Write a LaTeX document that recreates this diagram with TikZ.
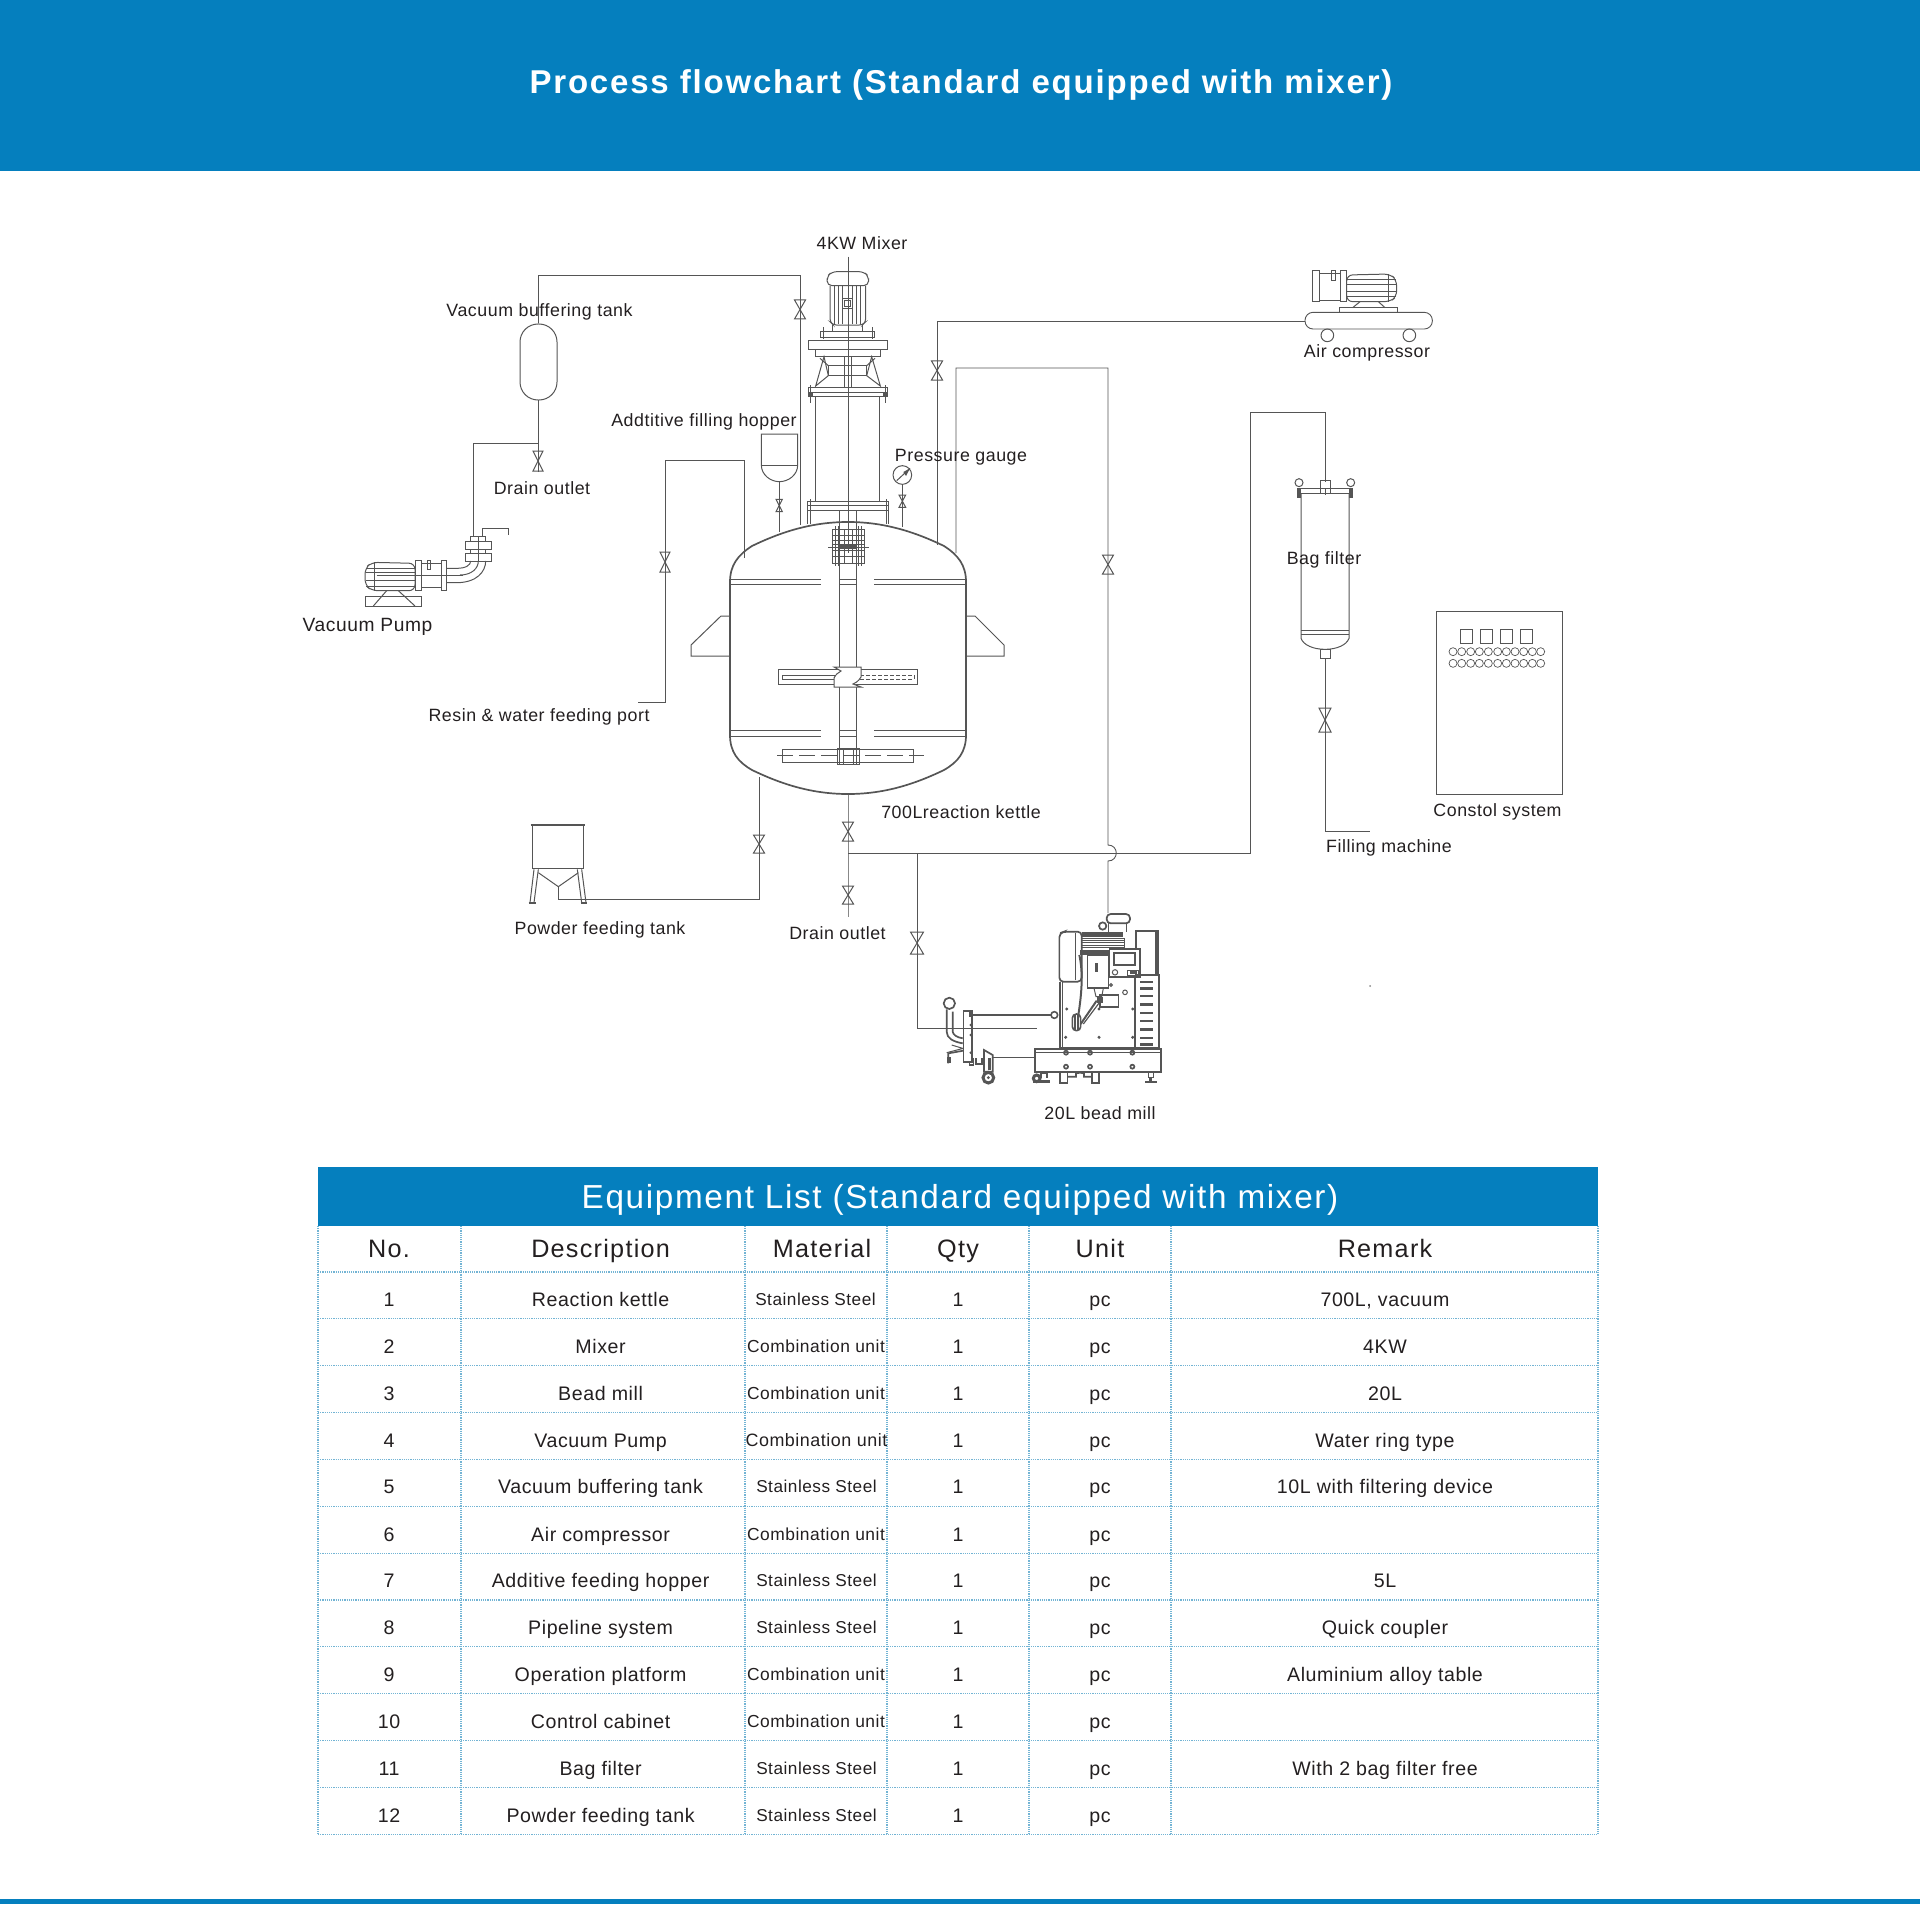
\documentclass[tikz,border=0pt]{standalone}
\usepackage{fontspec}
\setmainfont{Liberation Sans}[LetterSpace=3]
\newfontfamily\titlefont{Liberation Sans}[LetterSpace=5.5,Ligatures=NoCommon]
\newfontfamily\listfont{Liberation Sans}[LetterSpace=5,Ligatures=NoCommon]
\definecolor{hdblue}{RGB}{5,127,190}
\definecolor{ln}{RGB}{85,85,85}
\definecolor{txt}{RGB}{35,31,32}
\definecolor{gridc}{RGB}{115,180,212}
\tikzset{
  pipe/.style={draw=ln,line width=0.45pt},
  thin line/.style={draw=ln,line width=0.5pt},
  vessel/.style={draw=ln,line width=0.85pt},
  gridline/.style={draw=gridc,line width=0.55pt,dash pattern=on 0.6pt off 0.5pt},
  lab/.style={font=\fontsize{8.9}{10}\selectfont,text=txt,inner sep=0pt,anchor=center,text height=6.5pt,text depth=0pt},
  cell/.style={font=\fontsize{9.8}{11}\selectfont,text=txt,inner sep=0pt,anchor=center,text height=7pt,text depth=0pt},
  matcell/.style={text=txt,inner sep=0pt,anchor=center,text height=6.2pt,text depth=0pt},
  headcell/.style={font=\listfont\fontsize{12.6}{14}\selectfont,text=txt,inner sep=0pt,anchor=center,text height=9pt,text depth=0pt},
  zoomat/.style 2 args={shift={(#1,#2)},x=0.16667pt,y=-0.16667pt}
}
\newcommand{\valve}[4]{\draw[thin line] (#1-#4,#2) -- (#1+#4,#2) -- (#1-#4,#3) -- (#1+#4,#3) -- cycle;}
\begin{document}
\begin{tikzpicture}[x=0.5pt,y=-0.5pt]
\path[use as bounding box] (0,0) rectangle (1920,1904);
% banners
\fill[hdblue] (0,0) rectangle (1920,171);
\fill[hdblue] (0,1899) rectangle (1920,1904);
\node[font=\titlefont\bfseries\fontsize{16.5}{18}\selectfont,text=white,inner sep=0pt,text height=12pt,text depth=0pt] (title) at (961,82) {Process flowchart (Standard equipped with mixer)};

% ---------- pipes ----------
\coordinate (tanktop) at (538,323);
\draw[pipe] (tanktop) -- (538,275) -- (800,275) -- (800,525);
\valve{800}{300}{319}{5.5}
\draw[pipe] (937,545) -- (937,321) -- (1305,321);
\valve{937}{361}{380}{5.5}
\draw[pipe] (956,553) -- (956,368) -- (1108,368) -- (1108,845) .. controls (1119,845) and (1119,861) .. (1108,861) -- (1108,913);
\valve{1108}{555}{574}{5.5}
\draw[pipe] (744,558) -- (744,460) -- (665,460) -- (665,702) -- (638,702);
\valve{665}{552}{572}{5}
\draw[pipe] (759,777) -- (759,899) -- (558,899) -- (558,887);
\valve{759}{835}{853}{5.5}
\draw[draw=ln!70,line width=0.5pt] (848,794) -- (848,917);
\valve{848}{822}{841}{5.5}
\valve{848}{886}{904}{5.5}
\draw[pipe] (848,853) -- (1250,853) -- (1250,412) -- (1325,412) -- (1325,482);
\draw[pipe] (917,853) -- (917,1028) -- (1037,1028);
\valve{917}{932}{954}{6.5}
\draw[pipe] (538,400) -- (538,472);
\valve{538}{451}{471}{5}
\draw[pipe] (538,443) -- (473,443) -- (473,536);
\draw[pipe] (1325,658) -- (1325,831) -- (1370,831);
\valve{1325}{708}{732}{6}

% ---------- vacuum buffering tank ----------
\draw[thin line,rounded corners=9pt] (520,324) rectangle (557,400);

% ---------- kettle ----------
\draw[vessel] (730,582) -- (730,735) .. controls (730,752) and (738,762) .. (752,770) .. controls (785,786) and (815,794) .. (848,794) .. controls (881,794) and (911,786) .. (944,770) .. controls (958,762) and (966,752) .. (966,735) -- (966,582) .. controls (966,565) and (958,555) .. (944,546) .. controls (911,530) and (881,522) .. (848,522) .. controls (815,522) and (785,530) .. (752,546) .. controls (738,555) and (730,565) .. (730,582) -- cycle;
\foreach \yy in {579,584,730,736}{
  \draw[thin line] (730,\yy) -- (821,\yy);
  \draw[thin line] (839,\yy) -- (856,\yy);
  \draw[thin line] (874,\yy) -- (966,\yy);
}
% lugs
\draw[thin line] (730,616) -- (721,616) -- (691,645) -- (691,656) -- (730,656);
\draw[thin line] (966,616) -- (975,616) -- (1004,645) -- (1004,656) -- (966,656);
% shaft
\draw[thin line] (839.5,510) -- (839.5,667) (839.5,687) -- (839.5,764) -- (856.5,764) -- (856.5,687) (856.5,667) -- (856.5,510);
\draw[thin line] (844,530) -- (844,563) (852,530) -- (852,563);
% coupling grid
\draw[thin line] (832,529) rectangle (864,563);
\foreach \yy in {535,540,544,550,556}{\draw[thin line] (832,\yy) -- (864,\yy);}
\foreach \xx in {835,838,858,861}{\draw[thin line] (\xx,526) -- (\xx,566);}
\draw[thin line] (828,547) -- (869,547);
\fill[ln] (840,545) rectangle (856,549);
% upper impeller
\draw[thin line] (778,669) rectangle (917,684);
\draw[thin line] (782,675) rectangle (836,679);
\draw[thin line,dash pattern=on 2pt off 1pt] (860,675) -- (914,675) -- (914,679) -- (860,679);
\draw[thin line,fill=white] (834,667) -- (861,667) -- (861,677) .. controls (858,682) and (855,683) .. (853,684) -- (861,687) -- (834,687) -- (834,678) .. controls (836,674) and (838,673) .. (841,671) -- cycle;
% lower impeller
\draw[thin line] (782,749) rectangle (913,762);
\draw[thin line] (837,748) rectangle (859,764);
\draw[thin line] (843,748) -- (843,764) (853,748) -- (853,764);
\draw[thin line,dash pattern=on 8pt off 3pt] (777,755) -- (924,755);

% ---------- mixer (zoom 1) ----------
\begin{scope}[zoomat={700}{220}]
\draw[thin line,rounded corners=2.5pt] (381,197) -- (381,170) -- (395,155) -- (492,155) -- (506,170) -- (506,197) -- cycle;
\draw[thin line,rounded corners=1.5pt] (390,197) -- (390,305) -- (400,315) -- (487,315) -- (497,305) -- (497,197);
\foreach \xx in {404,416,428,458,470,482}{\draw[thin line] (\xx,197) -- (\xx,312);}
\draw[thin line] (428,235) rectangle (458,265);
\draw[thin line] (434,241) rectangle (452,259);
\draw[thin line] (398,315) -- (398,333) (488,315) -- (488,333);
\draw[thin line] (362,333) rectangle (524,352);
\draw[thin line] (370,322) -- (370,358) (516,322) -- (516,358);
\draw[thin line] (325,361) rectangle (562,389);
\draw[thin line] (346,389) rectangle (542,408);
\draw[thin line] (433,408) -- (433,503) (455,408) -- (455,503);
% brackets
\draw[thin line] (372,410) -- (347,498) -- (385,467) -- cycle;
\draw[thin line] (515,410) -- (541,498) -- (500,467) -- cycle;
\draw[thin line] (385,437) rectangle (500,467);
\draw[thin line] (360,415) -- (385,437) (525,415) -- (500,437);
% flange
\draw[thin line] (325,503) rectangle (562,530);
\draw[thin line] (325,516) -- (562,516);
\fill[ln] (326,516) rectangle (338,530);
\fill[ln] (550,516) rectangle (562,530);
\draw[thin line] (331,495) -- (331,550) (555,495) -- (555,550);
% tube
\draw[thin line] (346,530) -- (346,845) (539,530) -- (539,845);
% low flange
\draw[thin line] (322,845) rectangle (566,870);
\draw[thin line] (322,855) -- (566,855);
\draw[thin line] (330,838) -- (330,912) (322,870) -- (322,912) (558,838) -- (558,912) (566,870) -- (566,912);
\draw[thin line] (418,870) -- (418,905) (468,870) -- (468,905);
% axis
\draw[thin line] (444,110) -- (444,1000);
\end{scope}

% ---------- hopper ----------
\begin{scope}[zoomat={700}{220}]
\draw[thin line] (184,642) -- (293,642) -- (293,735) .. controls (293,765) and (265,785) .. (238,785) .. controls (212,785) and (184,765) .. (184,735) -- cycle;
\draw[thin line] (184,735) -- (293,735);
\draw[thin line] (238,785) -- (238,935);
\draw[thin line] (228,838) -- (247,838) -- (228,875) -- (247,875) -- cycle;
% gauge
\draw[thin line] (607,793) -- (607,920);
\draw[thin line] (597,825) -- (617,825) -- (597,862) -- (617,862) -- cycle;
\draw[thin line,fill=white] (607,765) circle[radius=28];
\draw[line width=0.5pt,ln] (590,782) -- (630,745);
\fill[ln] (630,745) -- (610,756) -- (618,768) -- cycle;
\end{scope}

% ---------- vacuum pump (zoom 4) ----------
\begin{scope}[zoomat={340}{500}]
\draw[thin line,rounded corners=3pt] (225,190) -- (95,187) -- (75,205) -- (75,255) -- (95,272) -- (225,272) -- cycle;
\foreach \yy in {205,218,240,258}{\draw[thin line] (78,\yy) -- (225,\yy);}
\draw[thin line] (103,187) -- (103,272);
\draw[thin line] (77,290) rectangle (245,318);
\draw[thin line] (100,318) -- (140,272) (175,272) -- (225,318);
\draw[thin line] (227,180) rectangle (243,272);
\draw[thin line] (243,190) rectangle (305,262);
\draw[thin line] (262,180) rectangle (270,208);
\draw[thin line] (305,180) rectangle (320,272);
\draw[thin line] (110,225) -- (370,225);
\draw[thin line] (320,205) -- (350,205) .. controls (378,205) and (392,195) .. (392,183);
\draw[thin line] (320,248) -- (350,248) .. controls (410,248) and (437,215) .. (437,183);
\draw[thin line] (360,225) .. controls (395,225) and (415,205) .. (415,183);
\draw[thin line] (377,125) rectangle (453,148);
\draw[thin line] (377,160) rectangle (453,183);
\draw[thin line] (392,148) -- (392,160) (437,148) -- (437,160);
\draw[thin line] (392,110) rectangle (437,125);
\draw[thin line] (415,110) -- (415,183);
\draw[thin line] (427,110) -- (427,85) -- (505,85) -- (505,105);
\end{scope}

% ---------- air compressor (zoom 5) ----------
\begin{scope}[zoomat={1280}{250}]
\draw[pipe,rounded corners=4pt] (75,187) rectangle (457,237);
\draw[thin line] (142,256) circle[radius=19];
\draw[thin line] (388,256) circle[radius=19];
\draw[thin line] (178,173) rectangle (352,187);
\draw[thin line] (218,173) -- (240,155) (295,155) -- (315,173);
\draw[thin line,rounded corners=3pt] (200,75) -- (330,72) -- (350,90) -- (350,140) -- (330,155) -- (200,155) -- cycle;
\foreach \yy in {90,105,125,140}{\draw[thin line] (200,\yy) -- (348,\yy);}
\draw[thin line] (325,72) -- (325,155);
\draw[thin line] (180,63) rectangle (200,155);
\draw[thin line] (118,72) rectangle (180,150);
\draw[thin line] (97,63) rectangle (118,155);
\draw[thin line] (155,63) rectangle (165,93);
\end{scope}

% ---------- bag filter (zoom 6) ----------
\begin{scope}[zoomat={1270}{460}]
\draw[thin line] (93,100) -- (93,535) .. controls (100,555) and (130,568) .. (165,568) .. controls (200,568) and (230,555) .. (237,535) -- (237,100);
\draw[thin line] (93,512) -- (237,512) (93,522) -- (237,522);
\draw[thin line] (152,568) rectangle (180,595);
\draw[thin line] (82,85) -- (247,85) (82,100) -- (247,100);
\draw[thin line] (152,100) -- (152,62) -- (180,62) -- (180,100);
\draw[thin line] (165,85) -- (165,105);
\fill[ln] (81,85) rectangle (92,115);
\fill[ln] (237,85) rectangle (248,115);
\draw[thin line,fill=white] (87,68) circle[radius=12];
\draw[thin line,fill=white] (242,68) circle[radius=12];
% control cabinet
\draw[thin line] (500,454) rectangle (878,1002);
\foreach \xx in {571,632,692,752}{\draw[thin line] (\xx,508) rectangle ++(36,43);}
\foreach \xx in {549,575,602,628,655,683,709,735,761,787,812}{
  \draw[line width=0.35pt,ln] (\xx,575) circle[radius=12];
  \draw[line width=0.35pt,ln] (\xx,610) circle[radius=12];
}
\end{scope}

% ---------- powder tank (zoom 8) ----------
\begin{scope}[zoomat={510}{810}]
\draw[ln,line width=1.1pt] (62,44) -- (225,44);
\draw[thin line] (67,44) -- (67,175) -- (220,175) -- (220,44);
\draw[thin line] (85,188) -- (145,230) -- (205,188);
\draw[thin line] (72,178) -- (60,278) (85,178) -- (72,278);
\draw[thin line] (202,178) -- (215,278) (215,178) -- (228,278);
\draw[ln,line width=0.9pt] (56,278) -- (78,278) (212,278) -- (232,278);
\end{scope}

% ---------- bead mill (zoom 3) ----------
\begin{scope}[zoomat={920}{900}]
% top motor
\draw[vessel,rounded corners=2pt] (560,70) -- (560,42) -- (630,42) -- (630,70) -- cycle;
\draw[thin line] (565,70) -- (565,95) (620,70) -- (620,95);
\draw[vessel] (548,78) circle[radius=11];
% head
\fill[ln] (485,95) rectangle (610,110);
\draw[thin line] (485,115) rectangle (612,150);
\foreach \yy in {122,128,135,142}{\draw[thin line] (485,\yy) -- (612,\yy);}
\fill[ln] (480,150) rectangle (570,165);
% left cabinet
\draw[vessel,rounded corners=2pt] (418,245) -- (418,100) -- (432,95) -- (485,95) -- (485,245) -- cycle;
\draw[thin line] (465,100) -- (465,240);
% right cabinet
\draw[vessel] (648,92) rectangle (715,225);
\fill[ln] (706,92) rectangle (717,225);
% panel
\draw[vessel,fill=white] (568,147) rectangle (660,230);
\draw[vessel] (582,160) rectangle (645,195);
\draw[thin line] (585,217) circle[radius=8];
\draw[thin line] (622,210) rectangle (655,225);
\fill[ln] (630,213) rectangle (650,222);
% central box
\draw[vessel,fill=white] (502,165) rectangle (565,265);
\fill[ln] (525,190) rectangle (535,215);
\draw[thin line] (522,265) -- (528,290) -- (545,290) -- (550,265);
% main body
\draw[vessel] (420,245) -- (420,445) (420,445) -- (645,445) -- (645,230);
\draw[thin line] (428,245) -- (428,445);
\foreach \xx/\yy in {440/327,537/327,638/327,437/412,537/412,638/412}{\fill[ln] (\xx,\yy) circle[radius=5];}
\draw[thin line] (573,255) circle[radius=4];
\draw[thin line] (615,277) circle[radius=7];
% vent panel
\draw[vessel] (645,225) -- (717,225) -- (717,445) -- (645,445);
\foreach \yy in {243,262,285,310,335,360,385,410,430}{\fill[ln] (660,\yy) rectangle (700,\yy+7);}
% motor block
\draw[vessel] (540,285) rectangle (595,320);
\fill[ln] (530,290) rectangle (550,310);
% hose
\draw[ln,line width=1pt] (478,165) .. controls (490,220) and (485,280) .. (475,345);
\draw[ln,line width=0.8pt,rounded corners=2pt] (457,342) rectangle (482,392);
\draw[ln,line width=0.6pt] (465,345) -- (465,390) (474,345) -- (474,390);
\draw[ln,line width=1pt] (482,372) -- (530,302);
\draw[ln,line width=0.6pt] (490,372) -- (538,308);
% base
\draw[vessel] (345,447) rectangle (722,515);
\draw[thin line] (345,457) -- (722,457);
\foreach \xx in {438,510,637}{
  \draw[vessel] (\xx,458) circle[radius=6];
  \draw[vessel] (\xx,500) circle[radius=6];
}
% feet
\draw[vessel] (362,515) -- (362,535) (380,515) -- (380,535) (362,520) -- (380,520);
\draw[ln,line width=1.4pt] (340,545) -- (390,545);
\draw[ln,line width=1.5pt] (350,535) circle[radius=10];
\draw[vessel] (420,515) -- (420,548) -- (442,548) -- (442,515);
\draw[vessel] (442,530) -- (468,530) -- (468,520) -- (480,518) -- (492,520) -- (492,530) -- (515,530);
\draw[vessel] (515,515) -- (515,548) -- (537,548) -- (537,515);
\draw[vessel] (685,515) -- (685,532) -- (700,532) -- (700,515);
\draw[ln,line width=1.4pt] (675,546) -- (712,546) (692,532) -- (692,546);
% connecting lines
\draw[ln,line width=0.7pt] (155,345) -- (392,345);
\draw[ln,line width=0.7pt] (215,472) -- (345,472);
\draw[ln,line width=0.8pt] (403,345) circle[radius=10];
% front assembly
\draw[vessel] (88,310) circle[radius=17];
\draw[vessel] (80,328) -- (80,395) .. controls (80,415) and (100,425) .. (128,430);
\draw[vessel] (98,335) -- (98,395) .. controls (100,405) and (110,412) .. (128,415);
\draw[vessel] (130,333) rectangle (155,485);
\fill[ln] (148,333) rectangle (155,350);
\foreach \yy in {340,375,405,458}{\fill[ln] (152,\yy) circle[radius=4];}
\draw[vessel] (85,490) -- (85,460) -- (130,452);
\draw[thin line] (80,458) -- (130,445) (95,435) -- (128,445);
\fill[ln] (82,470) rectangle (92,490);
\draw[vessel] (148,485) -- (148,495) -- (160,495) -- (160,475);
\draw[vessel] (168,475) -- (168,492) -- (185,492) -- (185,475);
\draw[vessel] (192,450) -- (218,465) -- (218,515) -- (192,515) -- cycle;
\fill[ln] (205,475) rectangle (212,510);
\draw[ln,line width=1.5pt] (205,533) circle[radius=16];
\fill[ln] (205,533) circle[radius=5];
\end{scope}
\fill[ln!70] (1370,986) circle[radius=1];

% ---------- labels ----------
\node[lab] (lMixer) at (862,243) {4KW Mixer};
\node[lab] (lBuffer) at (539.5,310) {Vacuum buffering tank};
\node[lab] (lHopper) at (704,420) {Addtitive filling hopper};
\node[lab] (lGauge) at (961,455) {Pressure gauge};
\node[lab] (lDrainA) at (542,488) {Drain outlet};
\node[lab,font=\fontsize{9.6}{11}\selectfont] (lPump) at (367.5,624.5) {Vacuum Pump};
\node[lab] (lResin) at (539,715) {Resin \& water feeding port};
\node[lab] (lKettle) at (961,812) {700Lreaction kettle};
\node[lab] (lPowder) at (600,928) {Powder feeding tank};
\node[lab] (lDrainB) at (837.5,933) {Drain outlet};
\node[lab] (lMill) at (1100,1113) {20L bead mill};
\node[lab] (lAir) at (1367,351) {Air compressor};
\node[lab] (lBag) at (1324,558) {Bag filter};
\node[lab] (lControl) at (1497.5,810) {Constol system};
\node[lab] (lFill) at (1389,846) {Filling machine};

% ---------- table ----------
\fill[hdblue] (318,1167) rectangle (1598,1226);
\node[font=\listfont\fontsize{16.64}{18}\selectfont,text=white,inner sep=0pt,text height=12pt,text depth=0pt] (tabtitle) at (960,1196) {Equipment List (Standard equipped with mixer)};
\foreach \xx in {318,461,745,887,1029,1171,1598}{\draw[gridline] (\xx,1226) -- (\xx,1835);}
\foreach \i in {0,...,12}{\draw[gridline] (318,{1272+\i*46.85}) -- (1598,{1272+\i*46.85});}
\foreach \xx/\tt/\nm in {389/No./hNo,600.6/Description/hDesc,822/Material/hMat,958/Qty/hQty,1100/Unit/hUnit,1385/Remark/hRem}{
  \node[headcell] (\nm) at (\xx,1248) {\tt};
}
\foreach \r/\d/\m/\mx/\ms/\yy in {
  1/Reaction kettle/Stainless Steel/815.5/8.6/1299,
  2/Mixer/Combination unit/816/8.7/1346,
  3/Bead mill/Combination unit/816/8.7/1393,
  4/Vacuum Pump/Combination unit/816.5/8.95/1440,
  5/Vacuum buffering tank/Stainless Steel/816.5/8.6/1486,
  6/Air compressor/Combination unit/816/8.7/1534,
  7/Additive feeding hopper/Stainless Steel/816.5/8.6/1580,
  8/Pipeline system/Stainless Steel/816.5/8.6/1627,
  9/Operation platform/Combination unit/816/8.7/1674,
  10/Control cabinet/Combination unit/816/8.7/1721,
  11/Bag filter/Stainless Steel/816.5/8.6/1768,
  12/Powder feeding tank/Stainless Steel/816.5/8.6/1815}{
  \node[cell] (no\r) at (389,\yy) {\r};
  \node[cell] (desc\r) at (600.6,\yy) {\d};
  \node[matcell,font=\fontsize{\ms}{10}\selectfont] (mat\r) at (\mx,\yy) {\m};
  \node[cell] (qty\r) at (958,\yy) {1};
  \node[cell] (unit\r) at (1100,\yy) {pc};
}
\foreach \r/\t/\yy in {1/{700L, vacuum}/1299,2/4KW/1346,3/20L/1393,4/Water ring type/1440,5/10L with filtering device/1486,7/5L/1580,8/Quick coupler/1627,9/Aluminium alloy table/1674,11/With 2 bag filter free/1768}{
  \node[cell] (rem\r) at (1385,\yy) {\t};
}
\end{tikzpicture}
\end{document}
